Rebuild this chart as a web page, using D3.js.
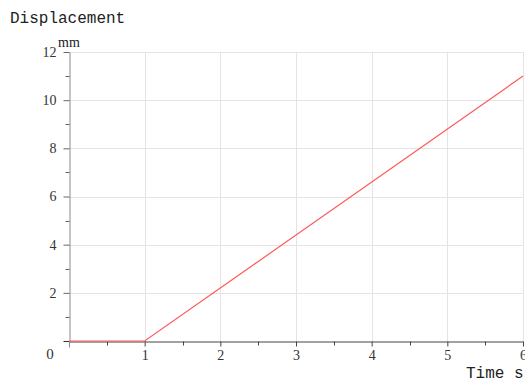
<!DOCTYPE html>
<html>
<head>
<meta charset="utf-8">
<script src="https://cdn.jsdelivr.net/npm/d3@7"></script>
<style>
  html, body { margin: 0; padding: 0; background: #fff; }
  svg { display: block; }
</style>
</head>
<body>
<svg id="chart" width="525" height="382"></svg>
<script>
// Displacement over time: particle at rest for 1 s, then moving at constant speed
const timeValues = [0, 1, 6];
const displacementValues = [0, 0, 11];
const xTickValues = [1, 2, 3, 4, 5, 6];
const yTickValues = [2, 4, 6, 8, 10, 12];

const width = 525, height = 382;
const margin = { left: 69, right: 2, top: 52, bottom: 41 };

const svg = d3.select("#chart");

const x = d3.scaleLinear().domain([0, 6]).range([margin.left, width - margin.right]);
const y = d3.scaleLinear().domain([0, 12]).range([height - margin.bottom, margin.top]);

const serif = "'Liberation Serif', 'Times New Roman', serif";
const mono = "'Liberation Mono', 'DejaVu Sans Mono', monospace";

// grid
const grid = svg.append("g").attr("stroke", "#e4e4e4").attr("stroke-width", 1);
grid.selectAll("line.gx").data(xTickValues).join("line")
  .attr("x1", d => Math.round(x(d)) + 0.5).attr("x2", d => Math.round(x(d)) + 0.5)
  .attr("y1", y(12)).attr("y2", y(0));
grid.selectAll("line.gy").data(yTickValues).join("line")
  .attr("y1", d => Math.round(y(d)) + 0.5).attr("y2", d => Math.round(y(d)) + 0.5)
  .attr("x1", x(0)).attr("x2", x(6));

// y axis
const yAxis = svg.append("g")
  .attr("transform", `translate(${Math.round(x(0)) + 0.5},0)`)
  .call(d3.axisLeft(y).tickValues(yTickValues).tickSize(6).tickSizeOuter(0).tickFormat(d3.format("d")));
yAxis.attr("font-family", null);
yAxis.select(".domain").attr("stroke", "#8a8a8a");
yAxis.selectAll(".tick line").attr("stroke", "#666");
yAxis.selectAll(".tick text").attr("x", -13).attr("fill", "#333")
  .attr("font-family", serif).attr("font-size", 14);
// minor y ticks
yAxis.selectAll("line.minor").data([1, 3, 5, 7, 9, 11]).join("line")
  .attr("class", "minor").attr("x1", -4).attr("x2", 0)
  .attr("y1", d => Math.round(y(d)) + 0.5).attr("y2", d => Math.round(y(d)) + 0.5)
  .attr("stroke", "#666");
// origin tick to the left
yAxis.append("line").attr("x1", -6).attr("x2", 0)
  .attr("y1", Math.round(y(0)) + 0.5).attr("y2", Math.round(y(0)) + 0.5).attr("stroke", "#333");

// x axis
const xAxis = svg.append("g")
  .attr("transform", `translate(0,${Math.round(y(0)) + 0.5})`)
  .call(d3.axisBottom(x).tickValues(xTickValues).tickSize(5).tickSizeOuter(0).tickFormat(d3.format("d")));
xAxis.attr("font-family", null);
xAxis.select(".domain").attr("stroke", "#444");
xAxis.selectAll(".tick line").attr("stroke", "#444");
xAxis.selectAll(".tick text").attr("y", 9).attr("fill", "#333")
  .attr("font-family", serif).attr("font-size", 14);
xAxis.selectAll("line.minor").data([0.5, 1.5, 2.5, 3.5, 4.5, 5.5]).join("line")
  .attr("class", "minor").attr("y1", 0).attr("y2", 4)
  .attr("x1", d => Math.round(x(d)) + 0.5).attr("x2", d => Math.round(x(d)) + 0.5)
  .attr("stroke", "#444");
xAxis.append("line").attr("y1", 0).attr("y2", 6)
  .attr("x1", Math.round(x(0)) + 0.5).attr("x2", Math.round(x(0)) + 0.5).attr("stroke", "#8a8a8a");

// origin label
svg.append("text").attr("x", 50).attr("y", 359).attr("text-anchor", "middle")
  .attr("fill", "#333").attr("font-family", serif).attr("font-size", 15).text("0");

// axis titles
svg.append("text").attr("x", 10).attr("y", 23).attr("fill", "#222")
  .attr("font-family", mono).attr("font-size", 16).text("Displacement");
svg.append("text").attr("x", 58).attr("y", 47).attr("fill", "#222")
  .attr("font-family", serif).attr("font-size", 14).text("mm");
svg.append("text").attr("x", 466).attr("y", 378).attr("fill", "#222")
  .attr("font-family", mono).attr("font-size", 16).text("Time s");

// data line
const line = d3.line().x((d, i) => x(timeValues[i])).y(d => y(d));
svg.append("path").datum(displacementValues)
  .attr("d", line).attr("fill", "none").attr("stroke", "#ff5a5a").attr("stroke-width", 1.2);
</script>
</body>
</html>
